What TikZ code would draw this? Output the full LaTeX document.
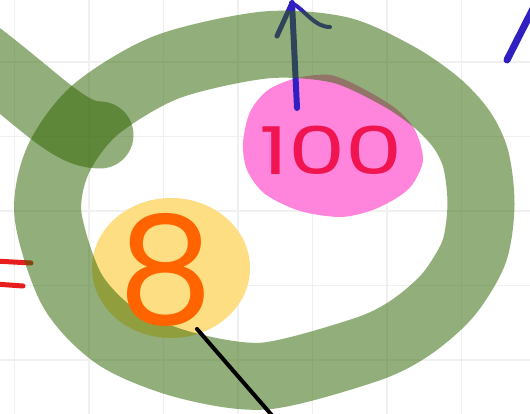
\documentclass[tikz,border=0pt]{standalone}
\usepackage{graphicx}
\usepackage{fontspec}
\newfontfamily\handfont{Poppins}
\usetikzlibrary{positioning}
\definecolor{padgreen}{RGB}{47,101,0}
\definecolor{padpink}{RGB}{255,133,220}
\definecolor{padyellow}{RGB}{253,222,130}
\definecolor{padorange}{RGB}{255,100,0}
\definecolor{padcrimson}{RGB}{240,20,80}
\definecolor{padblue}{RGB}{48,32,192}
\definecolor{padred}{RGB}{232,30,30}
\definecolor{padgrid}{RGB}{240,240,240}

\begin{document}
\begin{tikzpicture}[x=1pt, y=-1pt,
    pen/.style={line cap=round, line join=round},
    highlighter/.style={pen, draw=padgreen, draw opacity=0.52, line width=67pt}]
    \useasboundingbox (0,0) rectangle (530,414);
    \clip (0,0) rectangle (530,414);
    \fill[white] (0,0) rectangle (530,414);
    \foreach \gx in {14.5,89,...,530} \draw[padgrid, line width=1.5pt] (\gx,0) -- (\gx,414);
    \foreach \gy in {62,136.5,...,414} \draw[padgrid, line width=1.5pt] (0,\gy) -- (530,\gy);

    \fill[padpink] plot[smooth cycle] coordinates {(243,143) (250,112) (268,90) (297,78) (330,75) (360,87) (395,108) (415,130) (423,160) (412,185) (395,199) (370,211) (340,217) (300,211) (265,194) (247,170)};
    \fill[padyellow] (171,268) ellipse [x radius=79, y radius=70];

    \draw[pen, padred, line width=5pt] (-5,261) -- (31,263);
    \draw[pen, padred, line width=5pt] (-5,284) -- (23,286);

    \coordinate (arrowfoot) at (297,108);
    \coordinate (arrowtip) at (292,3);
    \draw[pen, padblue, line width=6pt] (arrowfoot) -- (arrowtip);
    \draw[pen, padblue, line width=5pt] (277,36) -- (arrowtip);
    \draw[pen, padblue, line width=4pt] (arrowtip) .. controls (305,10) and (314,27) .. (330,27);
    \draw[pen, padblue, line width=7pt] (507,60) -- (545,-15);

    \draw[highlighter] plot[smooth cycle] coordinates {(48,215) (58,160) (95,110) (167,67) (265,45) (340,50) (398,76) (437,103) (462,130) (476,160) (481,205) (474,252) (448,295) (410,328) (365,350) (265,376) (185,365) (117,337) (72,290)};
    \draw[highlighter] (-20,55) .. controls (45,105) and (70,135) .. (100,135);

    \node[text=padcrimson, font=\handfont\fontsize{66}{66}\selectfont] (hundred) at (331,150) {\scalebox{1.38}[1]{100}};
    \node[text=padorange, font=\handfont\fontsize{150}{150}\selectfont] (eight) at (166,270) {8};

    \coordinate (pointer) at (197,329);
    \coordinate (pointerend) at (276,420);
    \draw[pen, black, line width=4pt] (pointer) -- (pointerend);
\end{tikzpicture}
\end{document}
